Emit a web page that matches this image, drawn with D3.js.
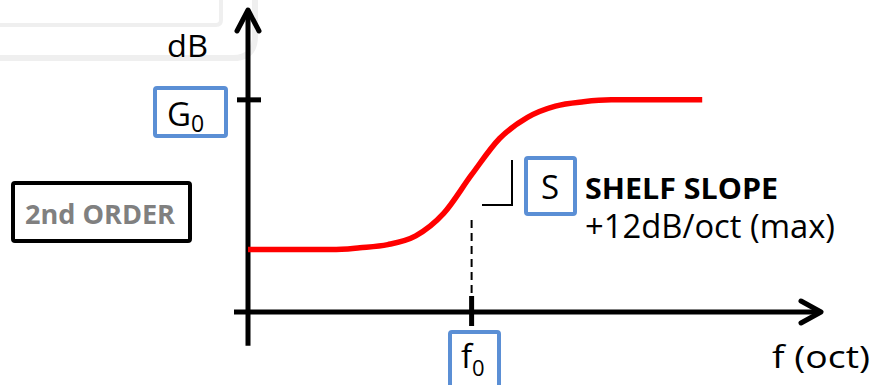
<!DOCTYPE html>
<html>
<head>
<meta charset="utf-8">
<script src="https://cdn.jsdelivr.net/npm/d3@7"></script>
<style>
  body { margin: 0; background: #fff; }
  svg { display: block; font-family: "Open Sans", "Noto Sans", sans-serif; }
</style>
</head>
<body>
<svg id="chart" width="875" height="385"></svg>
<script>
// shelf response, x in octaves relative to f0, y in dB above the x axis
const octaves = [-4, -2.5, -2, -1.5, -1, -0.5, 0, 0.5, 1, 1.5, 2, 2.5, 4.125];
const gainDb  = [5, 5, 5.15, 5.4, 6.1, 7.9, 11, 13.9, 15.6, 16.5, 16.85, 17, 17];
const gainTick = 17;
const f0 = 0;

const svg = d3.select("#chart");
const blue = "#5b8fd5";

const xScale = d3.scaleLinear().domain([-4, 6.25]).range([248, 821]);
const yScale = d3.scaleLinear().domain([0, 24.2]).range([312, 10]);

// faint frame of a neighbouring panel
svg.append("path")
  .attr("d", "M-10,25 H216 Q221,25 221,20 V-10")
  .attr("fill", "none").attr("stroke", "#efefef").attr("stroke-width", 4);
svg.append("path")
  .attr("d", "M-10,58 H233 Q255,58 255,36 V-10")
  .attr("fill", "none").attr("stroke", "#efefef").attr("stroke-width", 6);

const axes = svg.append("g").attr("stroke", "#000").attr("stroke-width", 5)
  .attr("fill", "none").attr("stroke-linecap", "round").attr("stroke-linejoin", "round");

// y axis + arrow
axes.append("line")
  .attr("x1", xScale(-4)).attr("x2", xScale(-4))
  .attr("y1", yScale(-2.7)).attr("y2", yScale(24.2))
  .attr("stroke-linecap", "butt");
axes.append("path")
  .attr("d", `M${xScale(-4) - 11},${yScale(24.2) + 21} L${xScale(-4)},${yScale(24.2)} L${xScale(-4) + 11},${yScale(24.2) + 21}`);

// x axis + arrow
axes.append("line")
  .attr("x1", xScale(-4) - 14).attr("x2", xScale(6.25))
  .attr("y1", yScale(0)).attr("y2", yScale(0))
  .attr("stroke-linecap", "butt");
axes.append("path")
  .attr("d", `M${xScale(6.25) - 20},${yScale(0) - 11} L${xScale(6.25)},${yScale(0)} L${xScale(6.25) - 20},${yScale(0) + 11}`);

// ticks
axes.append("line")
  .attr("x1", xScale(-4) - 11).attr("x2", xScale(-4) + 13)
  .attr("y1", yScale(gainTick)).attr("y2", yScale(gainTick))
  .attr("stroke-linecap", "butt");
axes.append("line")
  .attr("x1", xScale(f0)).attr("x2", xScale(f0))
  .attr("y1", yScale(0) - 16).attr("y2", yScale(0) + 14)
  .attr("stroke-linecap", "butt");

// dashed guide from f0
svg.append("line")
  .attr("x1", xScale(f0)).attr("x2", xScale(f0))
  .attr("y1", 220).attr("y2", yScale(0) - 16)
  .attr("stroke", "#000").attr("stroke-width", 2)
  .attr("stroke-dasharray", "8,5");

// response curve
const line = d3.line()
  .x((d, i) => xScale(octaves[i]))
  .y(d => yScale(d))
  .curve(d3.curveMonotoneX);

svg.append("path")
  .attr("d", line(gainDb))
  .attr("fill", "none")
  .attr("stroke", "#ff0000")
  .attr("stroke-width", 5.5);

// slope corner mark
svg.append("path")
  .attr("d", "M482,205 H512 V160")
  .attr("fill", "none").attr("stroke", "#000").attr("stroke-width", 2);

// boxes
function box(x, y, w, h, color) {
  svg.append("rect")
    .attr("x", x).attr("y", y).attr("width", w).attr("height", h)
    .attr("rx", 2)
    .attr("fill", "#fff").attr("stroke", color).attr("stroke-width", 4);
}

box(155, 88, 71, 48, blue);
box(526, 158, 49, 56, blue);
box(450, 332, 49, 70, blue);
box(13, 183, 177, 58, "#000");

// labels
const g0 = svg.append("text").attr("x", 167).attr("y", 126)
  .attr("font-size", 33).attr("fill", "#000");
g0.append("tspan").text("G");
g0.append("tspan").text("0").attr("font-size", 23).attr("dy", 6);

svg.append("text").attr("x", 550).attr("y", 199).attr("text-anchor", "middle")
  .attr("font-size", 33).text("S");

const f0t = svg.append("text").attr("x", 461).attr("y", 368)
  .attr("font-size", 33).attr("fill", "#000");
f0t.append("tspan").text("f");
f0t.append("tspan").text("0").attr("font-size", 22).attr("dy", 8);

function label(x, y, size, txt, width) {
  return svg.append("text").attr("x", x).attr("y", y)
    .attr("font-size", size)
    .attr("textLength", width).attr("lengthAdjust", "spacingAndGlyphs")
    .text(txt);
}

label(167, 57, 31, "dB", 41);
label(772, 368, 31, "f (oct)", 98);
label(585, 199, 29, "SHELF SLOPE", 193).attr("font-weight", "bold");
label(585, 238, 32, "+12dB/oct (max)", 250);
label(25, 224, 26, "2nd ORDER", 150)
  .attr("font-weight", "bold").attr("fill", "#808080");
</script>
</body>
</html>
